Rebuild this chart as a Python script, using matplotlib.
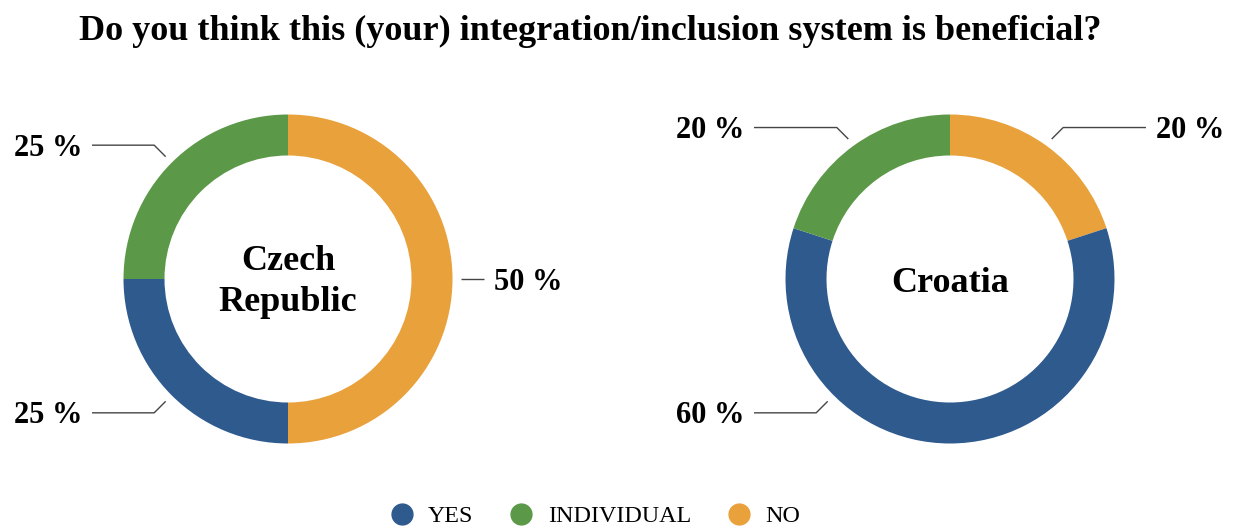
import numpy as np
import matplotlib
matplotlib.use("Agg")
import matplotlib.pyplot as plt
from matplotlib.lines import Line2D

# Survey answers (percent)
categories = ["YES", "INDIVIDUAL", "NO"]
countries = ["Czech\nRepublic", "Croatia"]
czech_values = [25, 25, 50]
croatia_values = [60, 20, 20]
colors = {"YES": "#2E5A8E", "INDIVIDUAL": "#5B9848", "NO": "#E9A13B"}

title = "Do you think this (your) integration/inclusion system is beneficial?"

W, H = 1237, 528
fig = plt.figure(figsize=(W / 100, H / 100), dpi=100)
ax = fig.add_axes([0, 0, 1, 1])

serif = ["Liberation Serif", "DejaVu Serif"]

# donut geometry in pixel units (y measured from the bottom)
centers = [(288, H - 279), (950, H - 279)]
r_out, ring = 164.5, 41
draw_order = ["NO", "YES", "INDIVIDUAL"]   # clockwise from 12 o'clock
# where a label's leader line leaves the ring (deg clockwise from top);
# missing entries use the middle of the wedge
label_angle = [{}, {"YES": 225.0}]
center_dy = [-3, -4]

for k, ((cx, cy), name, vals) in enumerate(
        zip(centers, countries, [czech_values, croatia_values])):
    v = dict(zip(categories, vals))
    seq = [v[c] for c in draw_order]
    ax.pie(seq, colors=[colors[c] for c in draw_order], startangle=90,
           counterclock=False, radius=r_out, center=(cx, cy),
           wedgeprops=dict(width=ring, linewidth=0), frame=True)
    ax.text(cx, cy + center_dy[k], name, ha="center", va="center",
            fontsize=26, fontweight="bold", family=serif, linespacing=1.32)

    # leader lines and value labels
    total = sum(seq)
    start = 0.0
    for c, val in zip(draw_order, seq):
        ang = label_angle[k].get(c, (start + val / 2) / total * 360.0)
        start += val
        mid = np.deg2rad(ang)
        dx, dy = np.sin(mid), np.cos(mid)
        x0, y0 = cx + 173 * dx, cy + 173 * dy
        sx = 1 if dx > 0 else -1
        sy = 0 if abs(dy) < 1e-6 else (1 if dy > 0 else -1)
        x1, y1 = x0 + sx * 11.5 * (sy != 0), y0 + sy * 11.5
        x2 = cx + sx * 196
        ax.plot([x0, x1, x2], [y0, y1, y1], color="#454545", lw=1.0,
                solid_capstyle="butt")
        ax.text(x2 + sx * 10, y1 - 3, f"{val} %",
                ha="left" if sx > 0 else "right", va="center",
                fontsize=22, fontweight="bold", family=serif)

ax.set_xlim(0, W)
ax.set_ylim(0, H)
ax.set_aspect("auto")
ax.axis("off")

fig.text(0.477, 1 - 31 / H, title, ha="center", va="center", fontsize=26,
         fontweight="bold", family=serif)

handles = [Line2D([], [], marker="o", ls="", markersize=15,
                  markerfacecolor=colors[c], markeredgecolor=colors[c])
           for c in categories]
leg = fig.legend(handles, categories, loc="center", ncol=3,
                 bbox_to_anchor=(0.481, 1 - 516 / H), frameon=False,
                 prop={"family": serif, "size": 17.3},
                 handletextpad=0.6, columnspacing=1.5, handlelength=1.0)

fig.savefig("out.png", dpi=100, facecolor="white")
